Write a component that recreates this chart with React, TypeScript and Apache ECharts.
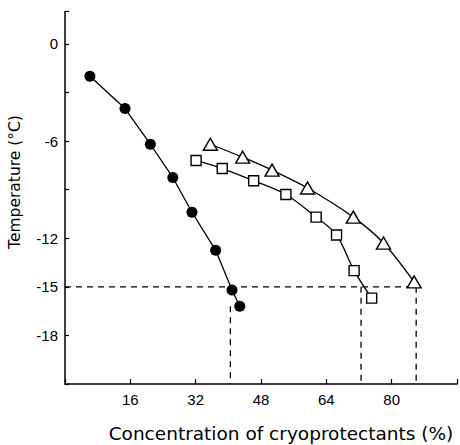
import { useEffect, useRef } from "react";
import * as echarts from "echarts";

// Filled circles
const circleX = [6.1, 14.7, 20.9, 26.4, 31.1, 36.9, 40.9, 42.8];
const circleY = [-2.0, -4.0, -6.2, -8.25, -10.4, -12.75, -15.2, -16.2];
// Open triangles
const triX = [35.6, 43.5, 50.7, 59.4, 70.6, 78.0, 85.5];
const triY = [-6.2, -7.0, -7.8, -8.9, -10.7, -12.3, -14.7];
// Open squares
const sqX = [32.1, 38.5, 46.2, 54.1, 61.5, 66.5, 70.8, 75.1];
const sqY = [-7.2, -7.7, -8.45, -9.3, -10.7, -11.8, -14.0, -15.7];

// Dashed guide lines (data units)
const guideLevel = -15;
const guideHX = [0, 86];
const guideVX = [40.5, 72.5, 86];
const guideVTop = [-16.2, -15, -15];

const xTickLabels = [16, 32, 48, 64, 80];
const yTickLabels = [0, -6, -12, -15, -18];

const X_MIN = 0;
const X_MAX = 96;
const Y_MIN = -21;
const Y_MAX = 2;

const FONT = "'Liberation Sans', Arial, sans-serif";
const TITLE_FONT = "'DejaVu Sans', sans-serif";

export default function App() {
  const ref = useRef<HTMLDivElement>(null);
  useEffect(() => {
    if (!ref.current) return;
    const chart = echarts.init(ref.current, undefined, { renderer: "svg" });
    const zip = (xs: number[], ys: number[]) => xs.map((x, i) => [x, ys[i]]);
    const dashStyle = { color: "#000", width: 1.3, type: [6, 5] as number[] };
    const guideSeries: any[] = [
      {
        type: "line",
        data: guideHX.map((x) => [x, guideLevel]),
        symbol: "none",
        lineStyle: dashStyle,
        z: 1,
        silent: true,
      },
      ...guideVX.map((x, i) => ({
        type: "line",
        data: [
          [x, guideVTop[i]],
          [x, Y_MIN],
        ],
        symbol: "none",
        lineStyle: dashStyle,
        z: 1,
        silent: true,
      })),
    ];
    chart.setOption({
      animation: false,
      backgroundColor: "#fff",
      grid: { left: 65, top: 11.4, width: 395, height: 372.6, containLabel: false },
      xAxis: {
        type: "value",
        min: X_MIN,
        max: X_MAX,
        interval: 16,
        axisLine: { show: true, onZero: false, lineStyle: { color: "#000", width: 1.5 } },
        axisTick: { show: true, inside: true, length: 5, lineStyle: { color: "#000", width: 1.2 } },
        splitLine: { show: false },
        axisLabel: {
          margin: 8,
          color: "#000",
          fontSize: 15,
          fontFamily: FONT,
          formatter: (v: number) => (xTickLabels.includes(v) ? String(v) : ""),
        },
      },
      yAxis: {
        type: "value",
        min: Y_MIN,
        max: Y_MAX,
        interval: 3,
        axisLine: { show: true, onZero: false, lineStyle: { color: "#000", width: 1.5 } },
        axisTick: { show: true, inside: true, length: 4, lineStyle: { color: "#000", width: 1.2 } },
        splitLine: { show: false },
        axisLabel: {
          margin: 7,
          color: "#000",
          fontSize: 15,
          fontFamily: FONT,
          formatter: (v: number) => (yTickLabels.includes(v) ? String(v) : ""),
        },
      },
      graphic: [
        {
          type: "text",
          x: 15,
          y: 182,
          rotation: Math.PI / 2,
          style: {
            text: "Temperature (°C)",
            fontSize: 15.5,
            fontFamily: TITLE_FONT,
            fill: "#000",
            align: "center",
            verticalAlign: "middle",
          },
        },
        {
          type: "text",
          x: 281,
          y: 433,
          style: {
            text: "Concentration of cryoprotectants (%)",
            fontSize: 18.5,
            fontFamily: TITLE_FONT,
            fill: "#000",
            align: "center",
            verticalAlign: "middle",
          },
        },
      ],
      series: [
        ...guideSeries,
        {
          type: "line",
          data: zip(circleX, circleY),
          symbol: "circle",
          symbolSize: 11,
          itemStyle: { color: "#000" },
          lineStyle: { color: "#000", width: 1.3 },
          z: 3,
        },
        {
          type: "line",
          data: zip(triX, triY),
          smooth: 0.3,
          symbol: "triangle",
          symbolSize: [14, 12],
          itemStyle: { color: "#fff", borderColor: "#000", borderWidth: 1.4 },
          lineStyle: { color: "#000", width: 1.3 },
          z: 3,
        },
        {
          type: "line",
          data: zip(sqX, sqY),
          smooth: 0.3,
          symbol: "rect",
          symbolSize: 10,
          itemStyle: { color: "#fff", borderColor: "#000", borderWidth: 1.4 },
          lineStyle: { color: "#000", width: 1.3 },
          z: 3,
        },
      ],
    });
    return () => chart.dispose();
  }, []);
  return (
    <div
      ref={ref}
      style={{ position: "fixed", left: 0, top: 0, width: 460, height: 445, background: "#fff" }}
    />
  );
}
